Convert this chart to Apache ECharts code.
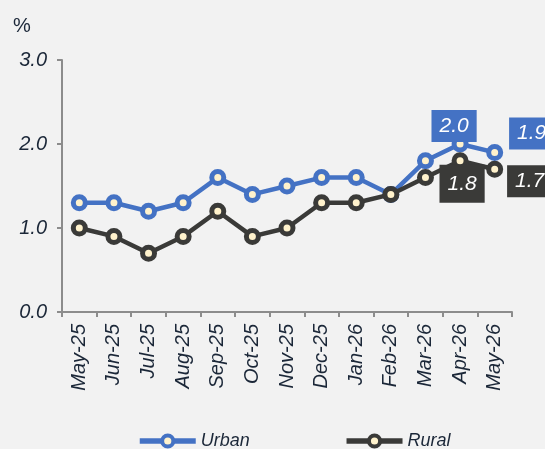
<!DOCTYPE html>
<html>
<head>
<meta charset="utf-8">
<script src="https://cdn.jsdelivr.net/npm/echarts@6/dist/echarts.min.js"></script>
<style>
  html, body { margin: 0; padding: 0; background: #F2F2F2; }
  #chart { width: 545px; height: 449px; }
</style>
</head>
<body>
<div id="chart"></div>
<script>
// Monthly inflation rates, urban vs rural (%)
const months = ['May-25', 'Jun-25', 'Jul-25', 'Aug-25', 'Sep-25', 'Oct-25', 'Nov-25',
                'Dec-25', 'Jan-26', 'Feb-26', 'Mar-26', 'Apr-26', 'May-26'];
const urban = [1.3, 1.3, 1.2, 1.3, 1.6, 1.4, 1.5, 1.6, 1.6, 1.4, 1.8, 2.0, 1.9];
const rural = [1.0, 0.9, 0.7, 0.9, 1.2, 0.9, 1.0, 1.3, 1.3, 1.4, 1.6, 1.8, 1.7];

const BLUE = '#4472C4';
const DARK = '#3A3A38';
const FILL = '#FFF2CC';
const FONT = '"Liberation Sans", Arial, sans-serif';
const TEXT = '#1B2738';

// Value callouts on the two most recent months
function callout(color, spec) {
  return {
    show: true,
    position: 'inside',
    offset: spec.offset,
    formatter: p => p.value.toFixed(1),
    color: '#FFFFFF',
    fontFamily: FONT,
    fontStyle: 'italic',
    fontSize: 21,
    lineHeight: 22,
    backgroundColor: color,
    padding: spec.padding || [5, 8]
  };
}

function seriesData(values, color, labels) {
  return values.map((v, i) => {
    const item = { value: v };
    if (labels[i]) item.label = callout(color, labels[i]);
    return item;
  });
}

const urbanLabels = {
  11: { offset: [-6, -18] },
  12: { offset: [37, -19] }
};
const ruralLabels = {
  11: { offset: [2, 23], padding: [10, 8, 6, 8] },
  12: { offset: [35, 12] }
};

const chart = echarts.init(document.getElementById('chart'));
chart.setOption({
  backgroundColor: '#F2F2F2',
  animation: false,
  textStyle: { fontFamily: FONT },
  graphic: [{
    type: 'text',
    left: 13,
    top: 16,
    style: { text: '%', font: '20px ' + FONT, fill: TEXT }
  }],
  grid: { left: 62, right: 33, top: 60, bottom: 137 },
  xAxis: {
    type: 'category',
    data: months,
    boundaryGap: true,
    axisLine: { lineStyle: { color: '#8C8C8C', width: 2 } },
    axisTick: { show: true, length: 5, lineStyle: { color: '#8C8C8C', width: 2 } },
    axisLabel: {
      rotate: 90,
      margin: 12,
      color: TEXT,
      fontFamily: FONT,
      fontStyle: 'italic',
      fontSize: 20
    }
  },
  yAxis: {
    type: 'value',
    min: 0,
    max: 3,
    interval: 1,
    splitLine: { show: false },
    axisLine: { show: true, lineStyle: { color: '#8C8C8C', width: 2 } },
    axisTick: { show: true, length: 5, lineStyle: { color: '#8C8C8C', width: 2 } },
    axisLabel: {
      margin: 15,
      color: TEXT,
      fontFamily: FONT,
      fontStyle: 'italic',
      fontSize: 20,
      formatter: v => v.toFixed(1)
    }
  },
  legend: {
    top: 427,
    left: 132,
    itemGap: 94,
    itemWidth: 56,
    itemHeight: 14,
    textStyle: { color: TEXT, fontFamily: FONT, fontStyle: 'italic', fontSize: 18 },
    lineStyle: { width: 5.5 },
    itemStyle: { borderWidth: 4 },
    data: ['Urban', 'Rural']
  },
  series: [
    {
      name: 'Urban',
      type: 'line',
      data: seriesData(urban, BLUE, urbanLabels),
      symbol: 'circle',
      symbolSize: 12,
      lineStyle: { color: BLUE, width: 4.5 },
      itemStyle: { color: FILL, borderColor: BLUE, borderWidth: 5 },
      z: 2
    },
    {
      name: 'Rural',
      type: 'line',
      data: seriesData(rural, DARK, ruralLabels),
      symbol: 'circle',
      symbolSize: 12,
      lineStyle: { color: DARK, width: 4.5 },
      itemStyle: { color: FILL, borderColor: DARK, borderWidth: 5 },
      z: 3
    }
  ]
});
</script>
</body>
</html>
